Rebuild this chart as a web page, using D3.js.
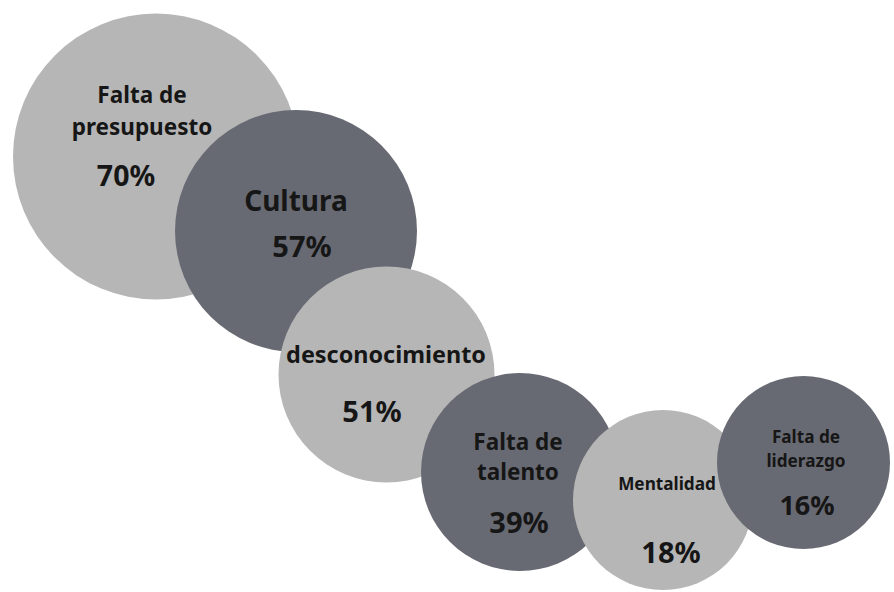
<!DOCTYPE html>
<html>
<head>
<meta charset="utf-8">
<script src="https://cdn.jsdelivr.net/npm/d3@7"></script>
<style>
  html, body { margin: 0; padding: 0; background: #ffffff; }
  svg { display: block; }
</style>
</head>
<body>
<script>
// data
const names = [
  ["Falta de", "presupuesto"],
  ["Cultura"],
  ["desconocimiento"],
  ["Falta de", "talento"],
  ["Mentalidad"],
  ["Falta de", "liderazgo"]
];
const values = [70, 57, 51, 39, 18, 16];

// bubble layout in chart units (10 px per unit)
const bubbleX = [15.6, 29.6, 38.65, 52.0, 66.3, 80.35];
const bubbleY = [15.65, 23.1, 37.45, 47.2, 50.0, 46.25];
const bubbleR = [14.3, 12.1, 10.8, 9.9, 9.0, 8.65];

// label anchors in the same units
const nameX = [14.2, 29.6, 38.6, 51.8, 66.7, 80.6];
const nameY = [10.3, 21.1, 36.3, 45.0, 49.0, 44.3];
const pctX = [12.6, 30.2, 37.2, 51.9, 67.1, 80.7];
const pctY = [18.6, 25.7, 42.2, 53.3, 56.3, 51.5];

const width = 894;
const height = 592;

const fills = ["#b6b6b6", "#686a73"];
const nameSize = [22.5, 28, 23.4, 22.5, 17.2, 17.2];
const pctSize = [28.5, 29, 29, 29, 29, 27];
const lineGap = [32, 0, 0, 30, 0, 24];

const x = d3.scaleLinear().domain([0, 89.4]).range([0, width]);
const y = d3.scaleLinear().domain([0, 59.2]).range([0, height]);
const r = d3.scaleLinear().domain([0, 89.4]).range([0, width]);

const rows = values.map((v, i) => ({
  i: i,
  value: v,
  lines: names[i],
  cx: bubbleX[i], cy: bubbleY[i], r: bubbleR[i],
  nx: nameX[i], ny: nameY[i], px: pctX[i], py: pctY[i]
}));

const svg = d3.select("body").append("svg")
  .attr("width", width)
  .attr("height", height)
  .attr("viewBox", `0 0 ${width} ${height}`);

const g = svg.selectAll("g.bubble")
  .data(rows)
  .join("g")
  .attr("class", "bubble");

g.append("circle")
  .attr("cx", d => x(d.cx))
  .attr("cy", d => y(d.cy))
  .attr("r", d => r(d.r))
  .attr("fill", d => fills[d.i % 2]);

g.append("text")
  .attr("text-anchor", "middle")
  .attr("font-family", "'Noto Sans', sans-serif")
  .attr("font-weight", 700)
  .attr("fill", "#161616")
  .attr("font-size", d => nameSize[d.i])
  .selectAll("tspan")
  .data(d => d.lines.map((t, k) => ({ t, k, d })))
  .join("tspan")
  .attr("x", e => x(e.d.nx))
  .attr("y", e => y(e.d.ny) + e.k * lineGap[e.d.i])
  .text(e => e.t);

g.append("text")
  .attr("text-anchor", "middle")
  .attr("font-family", "'Noto Sans', sans-serif")
  .attr("font-weight", 700)
  .attr("fill", "#161616")
  .attr("font-size", d => pctSize[d.i])
  .attr("x", d => x(d.px))
  .attr("y", d => y(d.py))
  .text(d => d.value + "%");
</script>
</body>
</html>
